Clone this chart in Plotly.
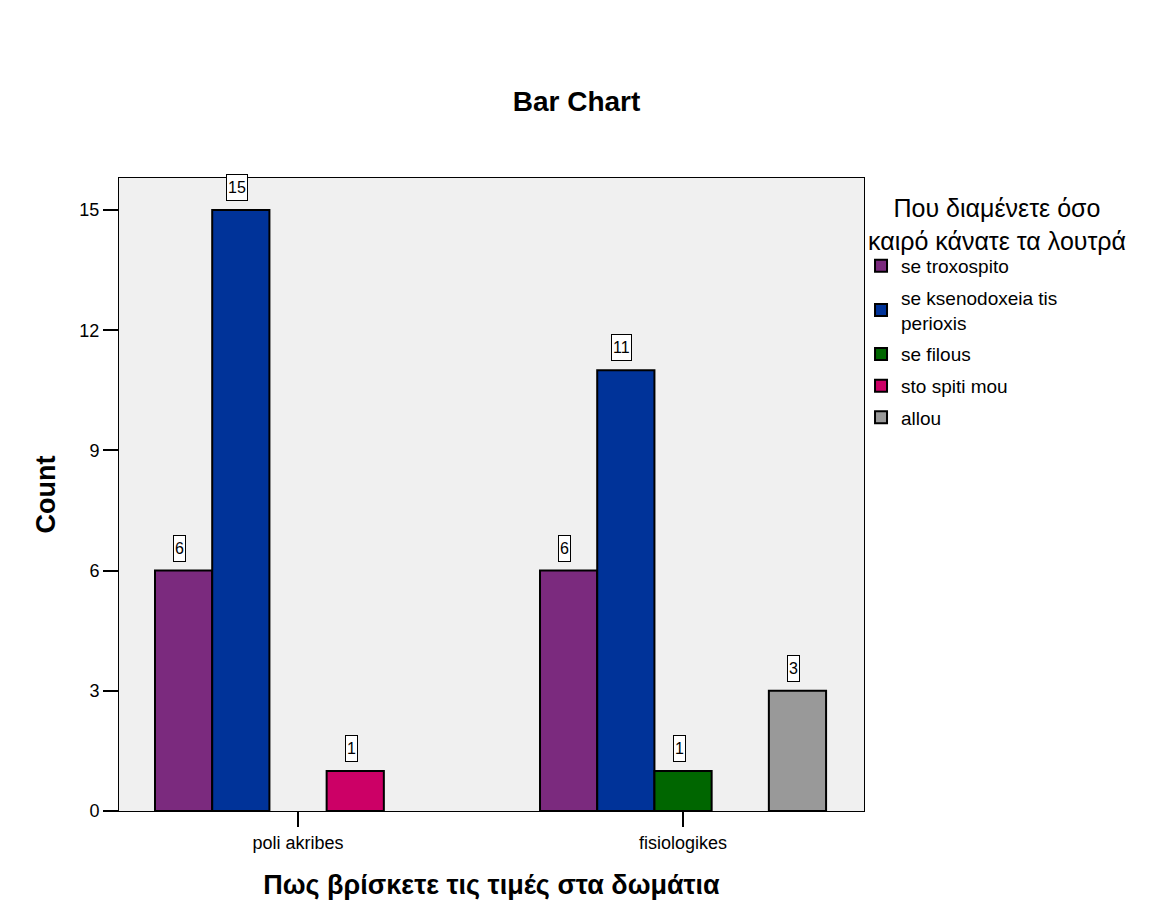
import plotly.graph_objects as go

categories = ["poli akribes", "fisiologikes"]
series_names = ["se troxospito", "se ksenodoxeia tis<br>perioxis", "se filous", "sto spiti mou", "allou"]
series_values = [
    [6, 6],
    [15, 11],
    [None, 1],
    [1, None],
    [None, 3],
]
series_colors = ["#7B2A7E", "#003399", "#006600", "#CC0066", "#999999"]
y_ticks = [0, 3, 6, 9, 12, 15]
legend_title_lines = ["Που διαμένετε όσο", "καιρό κάνατε τα λουτρά"]

FONT = "Liberation Sans, Arial, sans-serif"
BARGAP = 0.257

fig = go.Figure()
for i, (name, vals, col) in enumerate(zip(series_names, series_values, series_colors)):
    fig.add_trace(go.Bar(
        x=categories, y=vals, name=name, legendgroup=f"g{i}",
        marker=dict(color=col, line=dict(color="black", width=2)),
    ))

n = len(series_names)
bw = (1 - BARGAP) / n
annotations = []
for si, vals in enumerate(series_values):
    for ci, v in enumerate(vals):
        if v is None:
            continue
        annotations.append(dict(
            x=ci + (si - (n - 1) / 2) * bw, y=v, xref="x", yref="y",
            text=str(v), showarrow=False, yanchor="bottom", yshift=9, xshift=-4,
            font=dict(family=FONT, size=16, color="black"),
            height=23, valign="middle",
            bgcolor="white", bordercolor="black", borderwidth=1, borderpad=1,
        ))

plot_l, plot_r, plot_t, plot_b = 119, 1153 - 289, 178, 922 - 111
annotations.append(dict(
    x=(997 - plot_l) / (plot_r - plot_l), y=1 - (224 - plot_t) / (plot_b - plot_t),
    xref="paper", yref="paper", showarrow=False,
    text="<br>".join(legend_title_lines), align="center",
    xanchor="center", yanchor="middle",
    font=dict(family=FONT, size=25, color="black"),
))

fig.update_layout(
    width=1153, height=922,
    margin=dict(l=plot_l, r=1153 - plot_r, t=plot_t, b=922 - plot_b),
    paper_bgcolor="white", plot_bgcolor="#F0F0F0",
    barmode="group", bargap=BARGAP, bargroupgap=0,
    font=dict(family=FONT, color="black"),
    title=dict(text="<b>Bar Chart</b>", x=0.5, xref="container", xanchor="center",
               y=1 - 101 / 922, yref="container", yanchor="middle",
               font=dict(size=28, family=FONT, color="black")),
    xaxis=dict(showline=True, mirror=True, linecolor="black", linewidth=1,
               range=[-0.465, 1.47],
               ticks="outside", ticklen=15, tickwidth=2, tickcolor="black",
               tickfont=dict(size=18, family=FONT),
               title=dict(text="<b>Πως βρίσκετε τις τιμές στα δωμάτια</b>",
                          font=dict(size=27, family=FONT), standoff=23),
               showgrid=False),
    yaxis=dict(showline=True, mirror=True, linecolor="black", linewidth=1,
               range=[0, 15.8], tickvals=y_ticks,
               ticks="outside", ticklen=15, tickwidth=2, tickcolor="black",
               tickfont=dict(size=18, family=FONT),
               title=dict(text="<b>Count</b>", font=dict(size=27, family=FONT), standoff=15),
               showgrid=False, zeroline=False),
    legend=dict(x=0.996, xanchor="left", y=0.891, yanchor="top",
                traceorder="grouped", tracegroupgap=4,
                font=dict(size=19, family=FONT),
                bgcolor="rgba(0,0,0,0)"),
    annotations=annotations,
    showlegend=True,
)

fig.write_html("out.html")
